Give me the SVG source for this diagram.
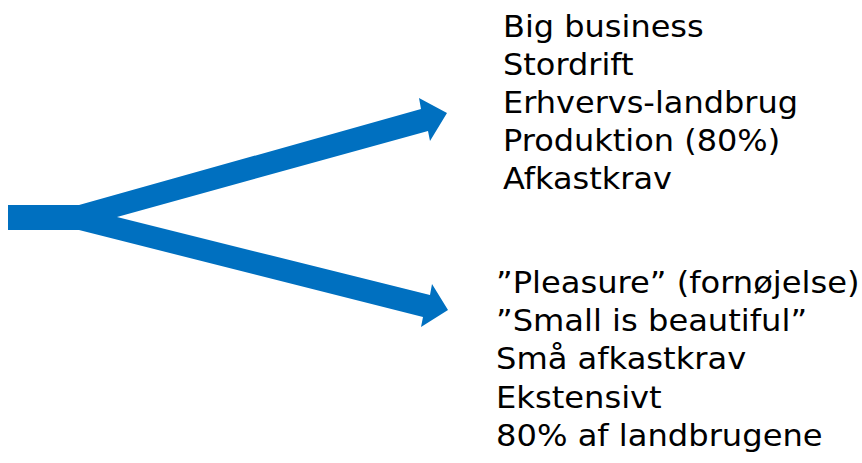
<svg xmlns="http://www.w3.org/2000/svg" width="862" height="463" viewBox="0 0 862 463">
<style>
.t{font-family:"DejaVu Sans","Verdana",sans-serif;font-size:30px;fill:#000}
.arrow{fill:#0070C0}
</style>
<rect width="862" height="463" fill="#fff"/>
<g id="connectors">
<polygon class="arrow" points="8,205 79,205 421,109 419,98 447,113 430,141 428,131 117,217 430,295 432,284 448,310 421,327 423,317 79,230 8,230"/>
</g>
<g id="upper" transform="translate(503,0) scale(1.066,1) translate(-503,0)">
<text class="t" x="503" y="37">Big business</text>
<text class="t" x="503" y="75">Stordrift</text>
<text class="t" x="503" y="113">Erhvervs-landbrug</text>
<text class="t" x="503" y="151">Produktion (80%)</text>
<text class="t" x="503" y="189">Afkastkrav</text>
</g>
<g id="lower" transform="translate(496,0) scale(1.072,1) translate(-496,0)">
<text class="t" x="496" y="293">”Pleasure” (fornøjelse)</text>
<text class="t" x="496" y="331">”Small is beautiful”</text>
<text class="t" x="496" y="369">Små afkastkrav</text>
<text class="t" x="496" y="408">Ekstensivt</text>
<text class="t" x="496" y="446">80% af landbrugene</text>
</g>
</svg>
